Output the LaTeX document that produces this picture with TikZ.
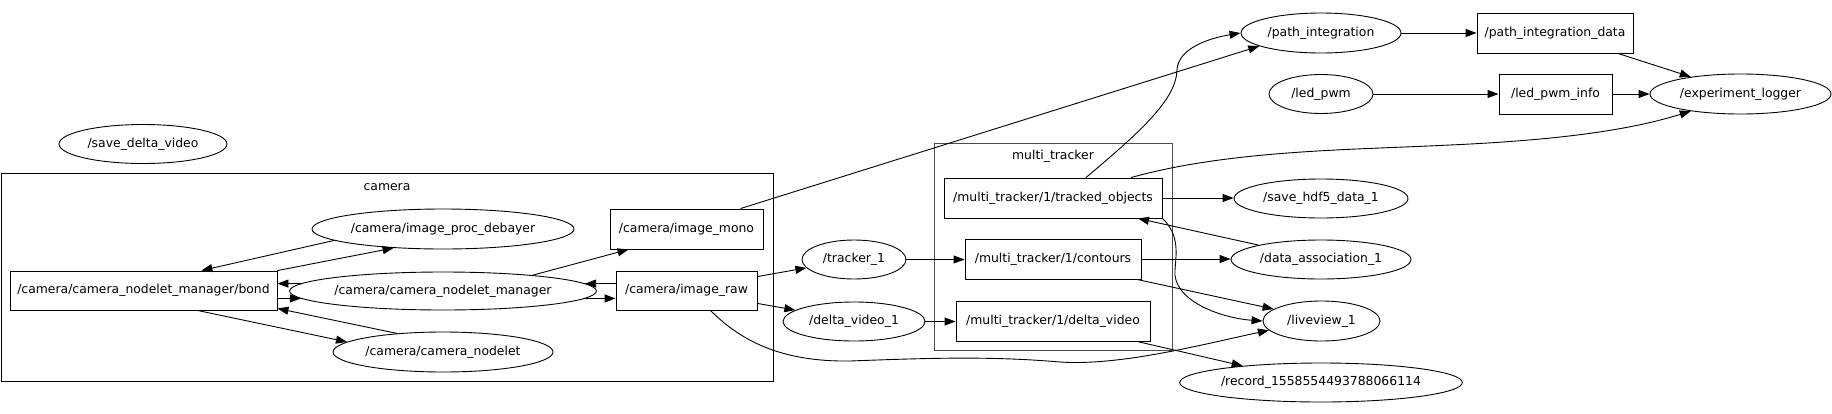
\documentclass[tikz,border=0pt]{standalone}
\usepackage{fontspec}
\setmainfont{DejaVu Sans}
\usepackage{tikz}
\usetikzlibrary{shapes.geometric}
\usetikzlibrary{arrows.meta}
\tikzset{
  rosnode/.style={draw, ellipse, inner sep=0pt, line width=0.9pt},
  rostopic/.style={draw, rectangle, inner sep=0pt, line width=0.9pt},
  wh/.style 2 args={minimum width=#1pt, minimum height=#2pt},
  cluster/.style={draw, line width=1pt},
  edge/.style={line width=0.9pt, -{Triangle[length=11pt,width=8pt]}},
}

\begin{document}
\begin{tikzpicture}[x=1pt, y=-1pt, font=\fontsize{12.4}{14}\selectfont]
      \useasboundingbox (0,0) rectangle (1832,413);

      % clusters
      \draw [cluster] (1,173) rectangle (773,381);
      \node (cameralbl) at (387,187) {camera};
      \draw [cluster, black!70] (934,143) rectangle (1172,350);
      \node (trackerlbl) at (1053,156) {multi\_tracker};

      \node [rosnode, wh={168}{39}] (savedelta) at (143,144) {/save\_delta\_video};

      % camera
      \node [rostopic, wh={267}{39}] (bond) at (143.5,290.5) {/camera/camera\_nodelet\_manager/bond};
      \node [rosnode, wh={262}{40}] (debayer) at (443,229) {/camera/image\_proc\_debayer};
      \node [rosnode, wh={300}{38}] (mgr) at (443,291) {/camera/camera\_nodelet\_manager};
      \node [rosnode, wh={220}{40}] (cnode) at (443,352) {/camera/camera\_nodelet};
      \node [rostopic, wh={153}{40}] (imono) at (686.5,229) {/camera/image\_mono};
      \node [rostopic, wh={141}{39}] (iraw) at (686.5,290.5) {/camera/image\_raw};

      \node [rosnode, wh={104}{39}] (tracker) at (854,259.5) {/tracker\_1};
      \node [rosnode, wh={142}{39}] (dvideo) at (854,321.5) {/delta\_video\_1};

      % multi_tracker
      \node [rostopic, wh={218}{40}] (tracked) at (1053,198) {/multi\_tracker/1/tracked\_objects};
      \node [rostopic, wh={176}{40}] (contours) at (1053,259) {/multi\_tracker/1/contours};
      \node [rostopic, wh={194}{40}] (mtvideo) at (1053,321) {/multi\_tracker/1/delta\_video};

      \node [rosnode, wh={160}{40}] (pathint) at (1321,33) {/path\_integration};
      \node [rosnode, wh={104}{39}] (ledpwm) at (1321,94) {/led\_pwm};
      \node [rosnode, wh={174}{39}] (savehdf) at (1321,198.5) {/save\_hdf5\_data\_1};
      \node [rosnode, wh={180}{39}] (assoc) at (1321,259.5) {/data\_association\_1};
      \node [rosnode, wh={117}{40}] (liveview) at (1321.5,321) {/liveview\_1};
      \node [rosnode, wh={280}{39}] (record) at (1321,382.5) {/record\_1558554493788066114};

      \node [rostopic, wh={156}{40}] (pathdata) at (1555,33) {/path\_integration\_data};
      \node [rostopic, wh={113}{40}] (ledinfo) at (1555.5,94) {/led\_pwm\_info};
      \node [rosnode, wh={181}{40}] (logger) at (1740.5,94) {/experiment\_logger};

      % edges
      \draw [edge] (debayer.186) -- (bond.19);
      \draw [edge] (bond.north east) -- (debayer.201);
      \draw [edge] (mgr.177) -- (mgr.177 -| bond.east);
      \draw [edge] (mgr.183 -| bond.east) -- (mgr.183);
      \draw [edge] (cnode.158) -- ([yshift=2pt]bond.south east);
      \draw [edge] ([xshift=54pt]bond.south) -- (cnode.174);
      \draw [edge] (mgr.10) -- ([xshift=-58pt]imono.south);
      \draw [edge] (mgr.3 -| iraw.west) -- (mgr.3);
      \draw [edge] (mgr.357) -- (mgr.357 -| iraw.west);
      \draw [edge] ([yshift=-6pt]iraw.north east) -- (tracker.190);
      \draw [edge] ([yshift=7pt]iraw.south east) -- (dvideo.169);

      \foreach \From/\To in {tracker/contours, dvideo/mtvideo, pathint/pathdata,
          ledpwm/ledinfo, ledinfo/logger, tracked/savehdf, contours/assoc}{
          \draw [edge] (\From.east) -- (\From.east -| \To.west);
        }

      \draw [edge] ([xshift=54pt]imono.north) -- (pathint.192);
      \draw [edge] ([xshift=33pt]tracked.north) .. controls (1140,132) and (1176,100) .. (1177,70)
      .. controls (1178,48) and (1210,38) .. (pathint.west);
      \draw [edge] ([xshift=63pt]pathdata.south) -- (logger.161);
      \draw [edge] ([xshift=78pt]tracked.north) .. controls (1230,150) and (1350,150) .. (1450,145)
      .. controls (1560,140) and (1630,130) .. (logger.199);
      \draw [edge] (assoc.167) -- ([xshift=85pt]tracked.south);
      \draw [edge] ([xshift=84pt]contours.south) -- (liveview.166);
      \draw [edge] (tracked.south east) .. controls (1180,235) and (1176,255) .. (1175,270)
      .. controls (1172,300) and (1220,318) .. (liveview.west);
      \draw [edge] ([xshift=24pt]iraw.south) .. controls (740,340) and (780,362) .. (850,361)
      .. controls (930,358) and (990,356) .. (1060,362)
      .. controls (1120,366) and (1200,345) .. (liveview.190);
      \draw [edge] ([xshift=84pt]mtvideo.south) -- (record.168);
    \end{tikzpicture}
\end{document}
